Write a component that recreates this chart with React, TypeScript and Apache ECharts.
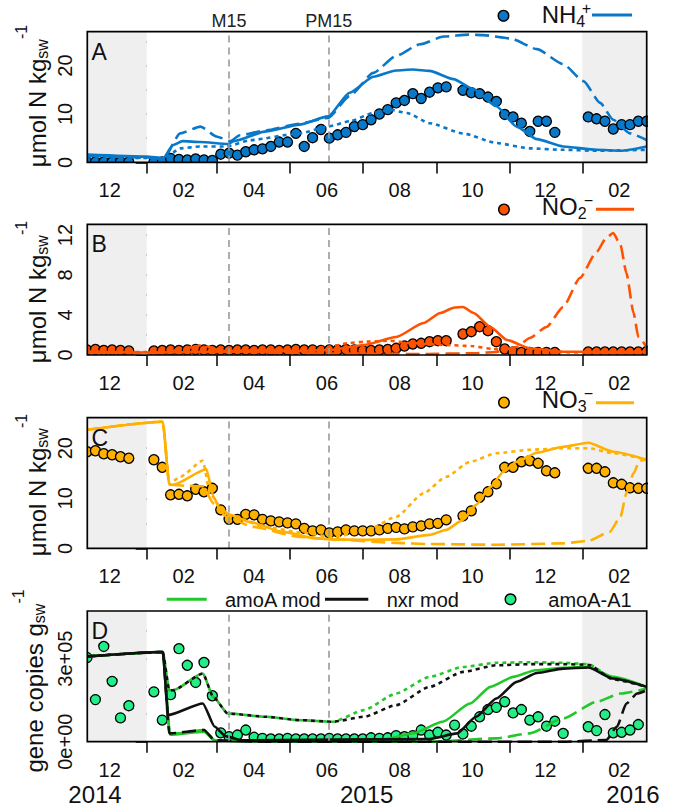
import React, { useEffect, useRef } from 'react';
import * as echarts from 'echarts';

const FONT = "'Liberation Sans', Arial, Helvetica, sans-serif";
const TXT = '#111111';

// ---------- axis / time data (x = days since 2015-01-01) ----------
const X_MIN = -49.8;
const X_MAX = 419;
const grayRanges = [[X_MIN, 0], [365, X_MAX]];
const eventDays = [69, 152.5];
const eventNames = ['M15', 'PM15'];
const monthTickDays = [0, 59, 120, 181, 243, 304, 365];
const monthLabelDays = [-31, 31, 90, 151, 212, 273, 334, 396];
const monthLabels = ['12', '02', '04', '06', '08', '10', '12', '02'];
const yearLabels = ['2014', '2015', '2016'];

// ---------- observations ----------
const obsDays = [
  -50, -43, -36, -29, -22, -15,
  6, 13, 20, 27, 34, 41, 48, 55, 62, 69, 76, 83, 90, 97, 104, 111, 118, 125, 132, 139, 146, 153,
  160, 167, 174, 181, 188, 195, 202, 209, 216, 223, 230, 237, 244, 251,
  265, 272, 279, 286, 293, 300, 307, 314, 321, 328, 335, 342,
  370, 377, 384, 391, 398, 405, 412, 419,
];
const nh4Obs = [
  0.1, 0.1, 0.1, 0.1, 0.1, 0.1,
  0.1, 0.1, 0.83, 0.6, 0.5, 0.7, 0.5, 0.4, 1.7, 1.9, 1.5, 2.2, 2.6, 2.8, 3.3, 4.2, 4.2, 6.0, 3.3, 5.1, 6.8, 5.0,
  5.7, 6.2, 7.4, 7.8, 8.8, 10.0, 10.9, 12.3, 12.8, 14.2, 13.2, 14.5, 15.4, 15.6,
  14.9, 14.4, 14.2, 13.5, 12.6, 9.9, 9.4, 8.1, 6.4, 8.5, 8.5, 6.2,
  9.4, 9.0, 8.5, 6.9, 7.8, 7.8, 8.5, 8.5,
];
const no2Obs = [
  0.5, 0.55, 0.45, 0.5, 0.45, 0.4,
  0.4, 0.45, 0.5, 0.45, 0.5, 0.55, 0.5, 0.45, 0.5, 0.45, 0.5, 0.5, 0.45, 0.5, 0.5, 0.45, 0.5, 0.55, 0.5, 0.5, 0.45, 0.5,
  0.5, 0.55, 0.5, 0.45, 0.45, 0.5, 0.55, 0.67, 0.9, 1.1, 1.17, 1.33, 1.43, 1.43,
  2.1, 2.33, 2.83, 2.43, 1.33, 0.6, 0.3, 0.25, 0.25, 0.25, 0.25, 0.25,
  0.3, 0.3, 0.3, 0.3, 0.3, 0.3, 0.3, 0.35,
];
const no3Obs = [
  19.3, 19.5, 18.9, 18.7, 18.3, 18.0,
  17.7, 16.2, 10.7, 10.8, 10.5, 11.8, 11.3, 12.0, 7.7, 5.8, 5.8, 6.8, 6.7, 5.8, 5.5, 5.3, 5.1, 4.9, 4.0, 3.5, 3.7, 3.1,
  3.3, 3.7, 3.5, 3.5, 3.5, 3.7, 4.0, 4.2, 3.9, 4.3, 4.5, 4.9, 5.0, 5.7,
  6.5, 7.5, 10.2, 11.3, 12.9, 16.2, 16.2, 17.3, 17.5, 17.0, 15.5, 15.1,
  16.0, 16.0, 15.3, 13.1, 12.8, 12.1, 12.0, 12.0,
];
const geneDays = [
  -50, -43, -36, -29, -22, -15,
  6, 13, 20, 27, 34, 41, 48, 55, 62, 69, 76, 83, 90, 97, 104, 111, 118, 125, 132, 139, 146, 153,
  160, 167, 174, 181, 188, 195, 202, 209, 216, 223, 230, 237, 244, 251, 258,
  265, 272, 279, 286, 293, 300, 307, 314, 321, 328, 335, 342, 349,
  370, 377, 384, 391, 398, 405, 412, 419,
];
const amoAObs = [
  3.04e5, 1.52e5, 3.44e5, 2.18e5, 0.86e5, 1.3e5,
  1.8e5, 0.78e5, 1.7e5, 3.36e5, 2.76e5, 2.14e5, 2.86e5, 1.66e5, 0.32e5, 0.18e5, 0.24e5, 0.42e5, 0.16e5, 0.12e5, 0.1e5, 0.1e5, 0.12e5, 0.1e5, 0.1e5, 0.1e5, 0.1e5, 0.12e5,
  0.1e5, 0.1e5, 0.1e5, 0.1e5, 0.14e5, 0.12e5, 0.14e5, 0.22e5, 0.18e5, 0.22e5, 0.42e5, 0.24e5, 0.34e5, 0.24e5,
  0.6e5, 0.28e5, 0.56e5, 0.9e5, 1.16e5, 1.24e5, 1.44e5, 1.04e5, 1.16e5, 0.78e5, 0.9e5, 0.56e5, 0.74e5,
  0.3e5, 0.54e5, 0.4e5, 0.98e5, 0.32e5, 0.34e5, 0.42e5, 0.62e5,
];

// ---------- model curves [day, value] ----------
const nh4Solid = [[-49.8, 1.6], [0, 1.2], [14, 0.9], [22, 3.6], [30, 4.4], [45, 4.2], [68, 3.8], [73, 4.4], [100, 6.4], [128, 7.8], [152, 9.5], [170, 14.4], [190, 17.7], [209, 19.0], [223, 19.2], [237, 18.9], [257, 17.2], [274, 15.1], [293, 11.6], [310, 7.4], [327, 4.8], [349, 3.3], [377, 2.6], [397, 2.4], [419, 3.3]];
const nh4Dashed = [[-49.8, 1.4], [0, 1.0], [14, 0.7], [28, 6.0], [45, 7.4], [59, 5.3], [70, 4.4], [78, 5.6], [100, 6.6], [128, 8.0], [152, 9.2], [170, 13.7], [190, 18.5], [209, 22.0], [229, 24.4], [249, 26.0], [270, 26.4], [282, 26.3], [305, 25.6], [327, 23.4], [349, 20.3], [366, 16.8], [380, 12.3], [391, 8.8], [405, 6.0], [419, 4.6]];
const nh4Dotted = [[-49.8, 1.1], [0, 0.9], [14, 0.6], [28, 2.9], [45, 3.3], [67, 3.3], [87, 4.6], [128, 6.0], [152, 7.4], [170, 8.5], [190, 10.2], [204, 10.9], [218, 10.2], [237, 8.1], [265, 6.0], [293, 4.0], [321, 2.9], [349, 2.6], [377, 2.4], [419, 2.6]];

const no2Solid = [[-49.8, 0.3], [0, 0.25], [60, 0.3], [120, 0.4], [154, 0.5], [182, 1.0], [209, 1.8], [232, 3.2], [246, 4.2], [258, 4.75], [265, 4.8], [274, 4.2], [288, 2.8], [302, 1.5], [321, 0.67], [349, 0.33], [419, 0.33]];
const no2Dashed = [[-49.8, 0.2], [14, 0.2], [30, 0.6], [47, 1.0], [60, 0.5], [80, 0.3], [150, 0.15], [230, 0.1], [274, 0.17], [293, 0.3], [310, 0.8], [321, 1.7], [335, 2.8], [349, 4.8], [363, 7.7], [377, 10.3], [385, 11.7], [391, 12.2], [397, 11.0], [402, 8.2], [408, 4.2], [412, 1.8], [419, 0.8]];
const no2Dotted = [[-49.8, 0.35], [0, 0.3], [60, 0.4], [120, 0.55], [153, 0.83], [170, 1.2], [182, 1.33], [204, 1.43], [220, 1.2], [250, 1.0], [272, 0.9], [290, 0.6], [307, 0.3], [419, 0.2]];

const no3Solid = [[-49.8, 23.7], [13.4, 25.3], [19, 12.7], [22, 12.7], [50, 15.8], [56, 10.3], [61, 8.0], [70, 6.7], [86, 5.3], [114, 3.3], [142, 2.0], [156, 1.8], [182, 1.7], [209, 1.8], [237, 2.7], [251, 3.7], [265, 5.7], [276, 8.7], [288, 12.3], [299, 15.3], [310, 17.3], [327, 19.1], [349, 20.3], [370, 21.1], [391, 19.3], [419, 17.7]];
const no3Dotted = [[-49.8, 23.7], [13.4, 25.3], [19, 12.9], [28, 14.3], [47, 17.5], [53, 11.0], [61, 8.5], [70, 6.5], [100, 4.3], [128, 3.2], [156, 2.3], [182, 3.3], [209, 6.3], [232, 11.0], [251, 14.3], [271, 17.3], [293, 19.0], [321, 19.7], [349, 20.0], [370, 20.0], [391, 19.0], [419, 17.7]];
const no3Dashed = [[-49.8, 23.7], [13.4, 25.3], [19, 12.7], [33, 12.5], [47, 12.4], [56, 9.0], [67, 6.3], [89, 4.3], [128, 2.3], [156, 1.8], [209, 1.1], [237, 0.87], [293, 0.73], [349, 1.0], [370, 1.5], [388, 3.3], [397, 6.3], [402, 11.0], [408, 15.0], [413, 17.5], [419, 17.7]];

const amoASolid = [[-49.8, 3.08e5], [13.4, 3.24e5], [19.5, 0.25e5], [48, 0.36e5], [57, 0.05e5], [80, 0.02e5], [160, 0.06e5], [200, 0.1e5], [223, 0.3e5], [248, 0.72e5], [271, 1.38e5], [288, 1.98e5], [307, 2.34e5], [326, 2.58e5], [349, 2.67e5], [370, 2.7e5], [391, 2.34e5], [419, 1.98e5]];
const amoADashed = [[-49.8, 3.08e5], [13.4, 3.24e5], [19.5, 0.3e5], [26.5, 0.3e5], [48, 0.42e5], [57, 0.05e5], [100, 0], [237, 0], [293, 0.12e5], [321, 0.3e5], [349, 0.84e5], [377, 1.44e5], [397, 1.74e5], [419, 1.92e5]];
const amoADotted = [[-49.8, 3.08e5], [13.4, 3.24e5], [19, 1.86e5], [22, 1.86e5], [47, 2.46e5], [56, 1.6e5], [68, 1.02e5], [100, 0.9e5], [128, 0.78e5], [156, 0.72e5], [182, 1.14e5], [209, 1.74e5], [237, 2.34e5], [265, 2.7e5], [293, 2.85e5], [321, 2.87e5], [349, 2.85e5], [370, 2.8e5], [391, 2.28e5], [419, 1.98e5]];
const nxrSolid = [[-49.8, 3.08e5], [13.4, 3.24e5], [18, 0.96e5], [47, 1.38e5], [57, 0.54e5], [66, 0.2e5], [80, 0.05e5], [237, 0.1e5], [260, 0.3e5], [276, 0.9e5], [293, 1.56e5], [310, 2.16e5], [327, 2.48e5], [349, 2.64e5], [370, 2.68e5], [391, 2.28e5], [419, 1.98e5]];
const nxrDashed = [[-49.8, 3.08e5], [13.4, 3.24e5], [19, 0.3e5], [48, 0.42e5], [57, 0.05e5], [100, 0], [349, 0], [385, 0.06e5], [394, 0.54e5], [402, 1.38e5], [411, 1.74e5], [419, 1.86e5]];
const nxrDotted = [[-49.8, 3.08e5], [13.4, 3.24e5], [19, 1.86e5], [22, 1.86e5], [47, 2.46e5], [56, 1.6e5], [68, 1.02e5], [100, 0.9e5], [128, 0.78e5], [156, 0.72e5], [182, 0.9e5], [209, 1.32e5], [237, 1.98e5], [265, 2.52e5], [293, 2.76e5], [321, 2.8e5], [349, 2.8e5], [370, 2.78e5], [391, 2.25e5], [419, 1.98e5]];

// ---------- y axes ----------
const yMaxes = [27, 13.07, 26.1, 4.72e5];
const yTickVals = [[0, 5, 10, 15, 20, 25], [0, 2, 4, 6, 8, 10, 12], [0, 5, 10, 15, 20, 25], [0, 1e5, 2e5, 3e5, 4e5]];
const yLabelVals = [[0, 10, 20], [0, 4, 8, 12], [0, 10, 20], [0, 3e5]];
const panelLetters = ['A', 'B', 'C', 'D'];

// ---------- styling / layout ----------
const BLUE = '#0A78C8';
const RED = '#FF5200';
const AMBER = '#FFB000';
const GREEN = '#22C82A';
const MINT = '#22EE88';
const GRID_LEFT = 87.3;
const GRID_W = 559.4;
const GRID_H = 130.7;
const PANEL_TOPS = [31.7, 224.3, 417.7, 611];
const TITLE_CY = [96, 292, 485, 681];
const TITLE_X = [37, 37, 37, 34];
const DASH = [14, 6];
const DOT = [4, 4];
const LW = 2.6;

function expLabel(v: number) {
  const s = v.toExponential(0);
  const [m, e] = s.split('e');
  return `${m}e${e[0]}${e.slice(1).padStart(2, '0')}`;
}

function lineS(gi: number, data: number[][], color: string, type: any, dashOffset = 0) {
  return {
    type: 'line', xAxisIndex: gi, yAxisIndex: gi, data, showSymbol: false, symbol: 'none',
    smooth: 0.2, smoothMonotone: 'x', clip: true, silent: true, z: 4,
    lineStyle: { color, width: LW, type, dashOffset, cap: 'butt' },
  };
}

function pointS(gi: number, days: number[], vals: number[], fill: string) {
  return {
    type: 'custom', xAxisIndex: gi, yAxisIndex: gi, clip: true, silent: true, z: 3,
    data: days.map((d, i) => [d, vals[i]]),
    encode: { x: 0, y: 1 },
    renderItem: (_p: any, api: any) => {
      const c = api.coord([api.value(0), api.value(1)]);
      return { type: 'circle', shape: { cx: c[0], cy: c[1], r: 5 }, style: { fill, stroke: '#000', lineWidth: 1.3 } };
    },
  };
}

function bgS(gi: number) {
  return {
    type: 'line', xAxisIndex: gi, yAxisIndex: gi, data: [], z: 1, silent: true,
    markArea: {
      silent: true, itemStyle: { color: '#EFEFEF' },
      data: grayRanges.map(([a, b]) => [{ xAxis: a }, { xAxis: b }]),
    },
    markLine: {
      silent: true, symbol: ['none', 'none'], animation: false,
      lineStyle: { color: '#9A9A9A', type: [7, 5], width: 1.6 },
      label: gi === 0
        ? { show: true, position: 'end', formatter: '{b}', fontSize: 18, fontFamily: FONT, color: '#222', distance: 2 }
        : { show: false },
      data: eventDays.map((d, i) => ({ xAxis: d, name: eventNames[i] })),
    },
  };
}

function nearestLabel(v: number) {
  for (let i = 0; i < monthLabelDays.length; i++) if (Math.abs(monthLabelDays[i] - v) < 0.5) return monthLabels[i];
  return '';
}

let measureCtx: CanvasRenderingContext2D | null = null;
function tw(text: string, size: number) {
  if (!measureCtx) measureCtx = document.createElement('canvas').getContext('2d');
  if (!measureCtx) return text.length * size * 0.55;
  measureCtx.font = `${size}px "Liberation Sans", Arial, sans-serif`;
  return measureCtx.measureText(text).width;
}

function txt(x: number, y: number, text: string, size: number, align = 'left', rotation = 0) {
  return { type: 'text', x, y, rotation, z: 50, style: { text, fontSize: size, fontFamily: FONT, fill: TXT, align, verticalAlign: 'middle' } };
}

// rotated axis title: main text, then subscript, then superscript, reading bottom to top
function titleParts(xc: number, cy: number, main: string, sub: string, sup: string) {
  const M = 24, S = 16;
  const wm = tw(main, M), ws = tw(sub, S), wp = tw(sup, S);
  const y0 = cy + (wm + ws + wp) / 2;
  const r = Math.PI / 2;
  return [
    txt(xc, y0, main, M, 'left', r),
    txt(xc + 5.5, y0 - wm, sub, S, 'left', r),
    txt(xc - 16, y0 - wm - ws, sup, S, 'left', r),
  ];
}

function legendParts(x: number, yc: number, main: string, sub: string, sup: string, supDx: number, supDy: number) {
  const M = 24, S = 16;
  const wm = tw(main, M);
  return [
    txt(x, yc, main, M),
    txt(x + wm, yc + 7, sub, S),
    txt(x + wm + supDx, yc + supDy, sup, S),
  ];
}

function legCircle(cx: number, cy: number, fill: string) {
  return { type: 'circle', z: 50, shape: { cx, cy, r: 5.3 }, style: { fill, stroke: '#000', lineWidth: 1.4 } };
}
function legLine(x1: number, x2: number, y: number, color: string) {
  return { type: 'line', z: 50, shape: { x1, y1: y, x2, y2: y }, style: { stroke: color, lineWidth: 3 } };
}

export default function App() {
  const ref = useRef<HTMLDivElement>(null);
  useEffect(() => {
    if (!ref.current) return;
    const chart = echarts.init(ref.current, null, { renderer: 'svg' });

    const grid = PANEL_TOPS.map((top) => ({ left: GRID_LEFT, top, width: GRID_W, height: GRID_H, containLabel: false }));
    const xAxis = PANEL_TOPS.map((_, i) => ({
      type: 'value', gridIndex: i, min: X_MIN, max: X_MAX,
      axisLine: { show: false },
      axisTick: { show: true, customValues: monthTickDays, length: 11, lineStyle: { color: '#000', width: 1.5 } },
      axisLabel: { show: true, customValues: monthLabelDays, formatter: (v: number) => nearestLabel(v), fontSize: 20, fontFamily: FONT, color: TXT, margin: 18 },
      splitLine: { show: false },
    }));
    const yAxis = PANEL_TOPS.map((_, i) => ({
      type: 'value', gridIndex: i, min: 0, max: yMaxes[i],
      axisLine: { show: false },
      axisTick: { show: true, customValues: yTickVals[i], length: 11, lineStyle: { color: '#000', width: 1.5 } },
      axisLabel: {
        show: true, customValues: yLabelVals[i], rotate: 90, margin: 12, fontSize: 20, fontFamily: FONT, color: TXT,
        formatter: (v: number) => (i === 3 ? expLabel(v) : String(v)),
      },
      splitLine: { show: false },
    }));

    const series: any[] = [
      bgS(0), bgS(1), bgS(2), bgS(3),
      pointS(0, obsDays, nh4Obs, BLUE),
      lineS(0, nh4Dotted, BLUE, DOT), lineS(0, nh4Dashed, BLUE, DASH), lineS(0, nh4Solid, BLUE, 'solid'),
      pointS(1, obsDays, no2Obs, RED),
      lineS(1, no2Dotted, RED, DOT), lineS(1, no2Dashed, RED, DASH), lineS(1, no2Solid, RED, 'solid'),
      pointS(2, obsDays, no3Obs, AMBER),
      lineS(2, no3Dotted, AMBER, DOT), lineS(2, no3Dashed, AMBER, DASH), lineS(2, no3Solid, AMBER, 'solid'),
      pointS(3, geneDays, amoAObs, MINT),
      lineS(3, amoADotted, GREEN, DOT), lineS(3, amoADashed, GREEN, DASH), lineS(3, amoASolid, GREEN, 'solid'),
      lineS(3, nxrDotted, '#111', DOT, 4), lineS(3, nxrDashed, '#111', DASH, 10), lineS(3, nxrSolid, '#111', 'solid'),
    ];

    const graphic: any[] = [];
    PANEL_TOPS.forEach((top, i) => {
      graphic.push({ type: 'rect', z: 100, shape: { x: GRID_LEFT, y: top, width: GRID_W, height: GRID_H }, style: { fill: 'none', stroke: '#000', lineWidth: 1.7 } });
      graphic.push(txt(91.5, top + 20, panelLetters[i], 23));
      if (i < 3) graphic.push(...titleParts(TITLE_X[i], TITLE_CY[i], 'μmol N kg', 'sw', '-1'));
      else graphic.push(...titleParts(TITLE_X[i], TITLE_CY[i], 'gene copies g', 'sw', '-1'));
    });
    // legends
    graphic.push(legCircle(503.5, 15.7, BLUE), ...legendParts(541.7, 14.3, 'NH', '4', '+', 5.5, -5.7), legLine(592, 632, 15, BLUE));
    graphic.push(legCircle(504, 209.5, RED), ...legendParts(541.7, 206.8, 'NO', '2', '−', 6, -6), legLine(596, 634, 209.3, RED));
    graphic.push(legCircle(504, 402.5, AMBER), ...legendParts(541.7, 399.8, 'NO', '3', '−', 6, -6), legLine(596, 634, 402.7, AMBER));
    graphic.push(
      legLine(166.7, 206.7, 599.3, GREEN), txt(225, 600, 'amoA mod', 20),
      legLine(325, 368.3, 599.3, '#111'), txt(386.7, 600, 'nxr mod', 20),
      legCircle(510.5, 599.3, MINT), txt(548.3, 600, 'amoA-A1', 20),
    );
    // year labels
    graphic.push(txt(95, 794.5, yearLabels[0], 24, 'center'), txt(366.7, 794.5, yearLabels[1], 24, 'center'), txt(633, 794.5, yearLabels[2], 24, 'center'));

    chart.setOption({
      animation: false,
      backgroundColor: '#ffffff',
      textStyle: { fontFamily: FONT },
      grid, xAxis, yAxis, series, graphic,
    });
    return () => chart.dispose();
  }, []);
  return <div ref={ref} style={{ position: 'absolute', left: 0, top: 0, width: 677, height: 807, background: '#fff' }} />;
}
